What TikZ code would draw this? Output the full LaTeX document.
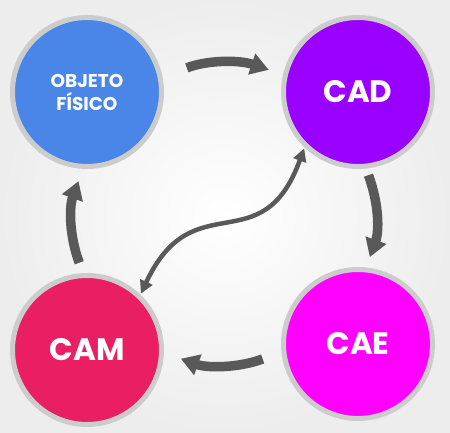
\documentclass[tikz,border=0pt]{standalone}
\usepackage{fontspec}
\setmainfont{Poppins}
\usetikzlibrary{arrows.meta}
\definecolor{objblue}{HTML}{4A86E8}
\definecolor{cadpurple}{HTML}{9900FF}
\definecolor{caemagenta}{HTML}{FF00FF}
\definecolor{camred}{HTML}{E91E63}
\definecolor{ringgray}{HTML}{CCCCCC}
\definecolor{arrowgray}{HTML}{595959}

\begin{document}
\begin{tikzpicture}[x=1pt,y=1pt,
  stage/.style={circle,draw=ringgray,line width=5pt,minimum size=149pt,inner sep=0pt,
    text=white,font=\bfseries\fontsize{31}{31}\selectfont},
  flow/.style={draw=arrowgray,line width=9.5pt,-{Triangle[width=21pt,length=18pt]}},
  link/.style={draw=arrowgray,line width=4.5pt,
    {Triangle[width=13pt,length=13pt]}-{Triangle[width=13pt,length=13pt]}}]
\shade[inner color=white,outer color=black!7] (0,0) rectangle (450,433);

\node[stage,fill=objblue,align=center,font=\bfseries\fontsize{18.5}{23}\selectfont] (obj) at (87,341) {OBJETO\\FÍSICO};
\node[stage,fill=cadpurple] (cad) at (358,341) {CAD};
\node[stage,fill=caemagenta] (cae) at (358,89) {CAE};
\node[stage,fill=camred] (cam) at (87,83) {CAM};

% cycle
\draw[flow,shorten <=26pt,shorten >=15pt] (obj.11) to[bend left=20] (cad.167);
\draw[flow,shorten <=7pt,shorten >=11pt] (cad.-84) to[bend left=20] (cae.84);
\draw[flow,shorten <=20pt,shorten >=18pt] (cae.186) to[bend left=20] (cam.-2);
\draw[flow,shorten <=11pt,shorten >=13pt] (cam.93) to[bend left=20] (obj.267);

\draw[link,shorten <=1pt,shorten >=1pt] (cad.226) to[out=250,in=65,looseness=1.45] (cam.46);
\end{tikzpicture}
\end{document}
